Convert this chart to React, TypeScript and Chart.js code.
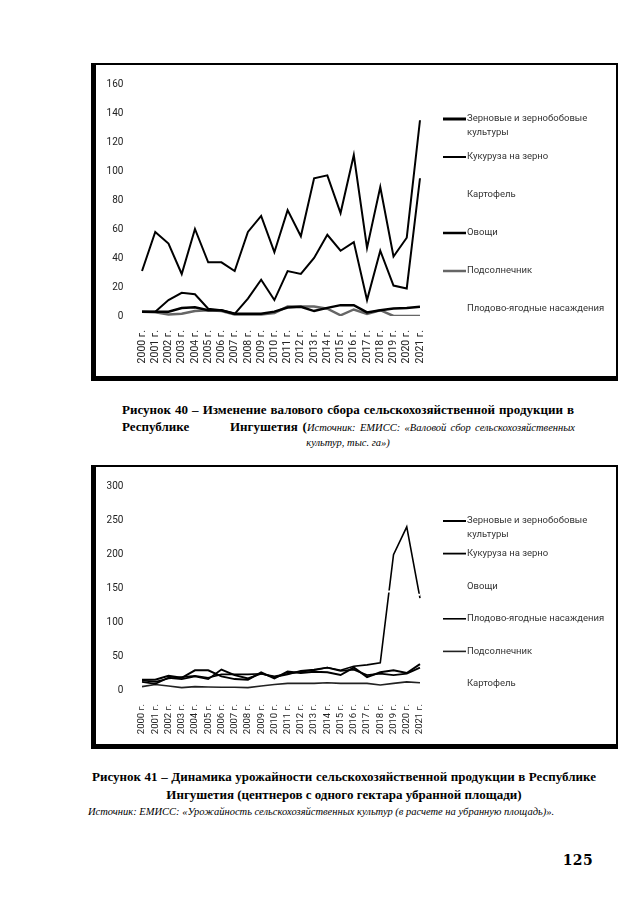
import React, { useEffect, useRef } from 'react';
import { Chart, registerables } from 'chart.js';

Chart.register(...registerables);

// ---------- shared categories ----------
const years = [
  '2000 г.', '2001 г.', '2002 г.', '2003 г.', '2004 г.', '2005 г.', '2006 г.', '2007 г.',
  '2008 г.', '2009 г.', '2010 г.', '2011 г.', '2012 г.', '2013 г.', '2014 г.', '2015 г.',
  '2016 г.', '2017 г.', '2018 г.', '2019 г.', '2020 г.', '2021 г.',
];

// ---------- Figure 40: gross harvest ----------
const grossNames = [
  'Зерновые и зернобобовые культуры',
  'Кукуруза на зерно',
  'Картофель',
  'Овощи',
  'Подсолнечник',
  'Плодово-ягодные насаждения',
];
const grossGrain = [31, 58, 50, 29, 60, 37, 37, 31, 58, 69, 44, 73, 55, 95, 97, 71, 111, 47, 89, 41, 54, 135];
const grossCorn = [3, 3, 11, 16, 15, 5, 4, 1.5, 12, 25, 11, 31, 29, 40, 56, 45, 51, 11, 45, 21, 19, 95];
const grossPotato = [32, 35, 38, 40, 39, 37, 37, 35, 36, 38, 40, 42, 44, 46, 50, 49, 48, 47, 40, 32, 30, 30];
const grossVeg = [3, 3, 3, 5.5, 6, 4, 4, 1.5, 1.5, 1.5, 3, 5.8, 6.3, 3.4, 5.6, 7.5, 7.5, 2.5, 4, 5.2, 5.6, 6.3];
const grossSunflower = [3, 2.5, 1, 1.5, 3.5, 4, 3.5, 1, 1, 1, 2, 6.5, 6.5, 6.5, 5, 0.5, 4.5, 1.5, 4, 0, 0, 0];
const grossFruit = [2, 2, 2, 2, 2, 3, 3, 2, 2, 2, 3, 4, 5, 6, 7, 7, 8, 8, 9, 10, 11, 12];
const grossTicks = [0, 20, 40, 60, 80, 100, 120, 140, 160];

// ---------- Figure 41: yields ----------
const yieldNames = [
  'Зерновые и зернобобовые культуры',
  'Кукуруза на зерно',
  'Овощи',
  'Плодово-ягодные насаждения',
  'Подсолнечник',
  'Картофель',
];
const yieldGrain = [15, 15, 21, 18, 29, 29, 20, 16, 15, 26, 17, 27, 25, 27, 26, 22, 33, 19, 26, 29, 25, 38];
const yieldCorn = [12, 9, 18, 16, 20, 16, 30, 22, 17, 24, 19, 23, 28, 30, 33, 28, 30, 22, 24, 22, 24, 33];
const yieldVeg = [120, 125, 130, 135, 140, 140, 145, 150, 150, 150, 155, 150, 150, 155, 150, 150, 150, 150, 145, 145, 140, 140];
const yieldFruit = [14, 12, 17, 19, 21, 18, 23, 23, 23, 24, 20, 24, 27, 29, 33, 29, 35, 37, 40, 199, 240, 135];
const yieldSunflower = [5, 8, 6, 3.5, 5, 4.5, 4, 4, 3.5, 6, 8, 9.7, 9.7, 9.7, 10.7, 9.7, 9.7, 9.7, 7.3, 9.7, 12, 10.7];
const yieldPotato = [100, 105, 110, 110, 115, 115, 120, 120, 120, 125, 125, 125, 130, 130, 130, 130, 135, 135, 135, 135, 140, 140];
const yieldTicks = [0, 50, 100, 150, 200, 250, 300];

// ---------- side legend plugin ----------
function wrapText(ctx: CanvasRenderingContext2D, text: string, maxW: number): string[] {
  const words = text.split(' ');
  const lines: string[] = [];
  let cur = '';
  for (const w of words) {
    const test = cur ? cur + ' ' + w : w;
    if (ctx.measureText(test).width > maxW && cur) {
      lines.push(cur);
      cur = w;
    } else {
      cur = test;
    }
  }
  if (cur) lines.push(cur);
  return lines;
}

const sideLegend = {
  id: 'sideLegend',
  afterDraw(chart: any, _args: any, opts: any) {
    const ctx: CanvasRenderingContext2D = chart.ctx;
    ctx.save();
    ctx.font = opts.font;
    ctx.textBaseline = 'middle';
    ctx.textAlign = 'left';
    let y = opts.y;
    chart.data.datasets.forEach((ds: any) => {
      const lines = wrapText(ctx, ds.label, opts.maxWidth);
      ctx.strokeStyle = ds.borderColor;
      ctx.lineWidth = ds.legendWidth || ds.borderWidth;
      ctx.beginPath();
      ctx.moveTo(opts.x0, y);
      ctx.lineTo(opts.x1, y);
      ctx.stroke();
      ctx.fillStyle = opts.color;
      lines.forEach((ln: string, i: number) => ctx.fillText(ln, opts.textX, y + i * opts.lineGap));
      y += opts.spacing;
    });
    ctx.restore();
  },
};

type LineDef = { label: string; data: number[]; color: string; width: number; legendWidth?: number };

type ChartProps = {
  left: number;
  top: number;
  width: number;
  height: number;
  lines: LineDef[];
  ticks: number[];
  areaTop: number;
  areaBottom: number;
  areaLeft: number;
  areaRight: number;
  xPad: number;
  xFont: number;
  legendY: number;
  legendSpacing: number;
};

function LineChart(p: ChartProps) {
  const ref = useRef<HTMLCanvasElement | null>(null);
  useEffect(() => {
    if (!ref.current) return;
    const chart = new Chart(ref.current, {
      type: 'line',
      data: {
        labels: years,
        datasets: p.lines.map((l) => ({
          label: l.label,
          data: l.data,
          borderColor: l.color,
          backgroundColor: l.color,
          borderWidth: l.width,
          legendWidth: l.legendWidth,
          pointRadius: 0,
          pointHoverRadius: 0,
          tension: 0,
          fill: false,
        })) as any,
      },
      options: {
        responsive: false,
        animation: false,
        events: [],
        layout: {
          padding: { left: 0, right: p.width - p.areaRight, top: p.areaTop, bottom: 0 },
        },
        plugins: {
          legend: { display: false },
          tooltip: { enabled: false },
          sideLegend: {
            font: '9.5px Roboto',
            color: '#333',
            x0: 346,
            x1: 369,
            textX: 370,
            y: p.legendY,
            spacing: p.legendSpacing,
            lineGap: 13.5,
            maxWidth: 140,
          },
        } as any,
        scales: {
          x: {
            offset: true,
            grid: { display: false, drawTicks: false },
            border: { display: false },
            ticks: {
              autoSkip: false,
              minRotation: 90,
              maxRotation: 90,
              padding: p.xPad,
              color: '#222',
              font: { family: 'Roboto', size: p.xFont },
            },
            afterFit: (s: any) => {
              s.height = p.height - p.areaBottom;
            },
          },
          y: {
            min: p.ticks[0],
            max: p.ticks[p.ticks.length - 1],
            grid: { display: false, drawTicks: false },
            border: { display: false },
            ticks: {
              stepSize: p.ticks[1] - p.ticks[0],
              padding: 12,
              color: '#222',
              font: { family: 'Roboto', size: 10 },
            },
            afterFit: (s: any) => {
              s.width = p.areaLeft;
            },
          },
        },
      },
      plugins: [sideLegend as any],
    });
    return () => chart.destroy();
  }, []);
  return (
    <canvas
      ref={ref}
      width={p.width}
      height={p.height}
      style={{ position: 'absolute', left: p.left, top: p.top, width: p.width, height: p.height }}
    />
  );
}

const boxStyle = (top: number, height: number): React.CSSProperties => ({
  position: 'absolute',
  left: 91,
  top,
  width: 527,
  height,
  boxSizing: 'border-box',
  borderTop: '2px solid #000',
  borderRight: '2px solid #000',
  borderLeft: '5px solid #000',
  borderBottom: '5px solid #000',
});

const serif = '"Liberation Serif", "Times New Roman", serif';

export default function App() {
  const gross: LineDef[] = [
    { label: grossNames[0], data: grossGrain, color: '#000', width: 2, legendWidth: 3 },
    { label: grossNames[1], data: grossCorn, color: '#000', width: 2 },
    { label: grossNames[2], data: grossPotato, color: '#fff', width: 2 },
    { label: grossNames[3], data: grossVeg, color: '#000', width: 2.5 },
    { label: grossNames[4], data: grossSunflower, color: '#666', width: 2.5 },
    { label: grossNames[5], data: grossFruit, color: '#fff', width: 2 },
  ];
  const yields: LineDef[] = [
    { label: yieldNames[0], data: yieldGrain, color: '#000', width: 2 },
    { label: yieldNames[1], data: yieldCorn, color: '#000', width: 1.8 },
    { label: yieldNames[2], data: yieldVeg, color: '#fff', width: 2 },
    { label: yieldNames[3], data: yieldFruit, color: '#000', width: 1.6 },
    { label: yieldNames[4], data: yieldSunflower, color: '#222', width: 1.6 },
    { label: yieldNames[5], data: yieldPotato, color: '#fff', width: 2 },
  ];
  return (
    <div
      style={{
        position: 'absolute',
        left: 0,
        top: 0,
        width: 640,
        height: 905,
        background: '#fff',
        overflow: 'hidden',
        color: '#000',
      }}
    >
      <div style={boxStyle(63, 318)} />
      <LineChart
        left={97}
        top={66}
        width={519}
        height={309}
        lines={gross}
        ticks={grossTicks}
        areaTop={14}
        areaBottom={250}
        areaLeft={38.4}
        areaRight={329.6}
        xPad={14}
        xFont={10.5}
        legendY={53}
        legendSpacing={38}
      />

      <div
        style={{
          position: 'absolute',
          left: 122,
          top: 402,
          width: 452,
          fontFamily: serif,
          fontWeight: 'bold',
          fontSize: 13,
          lineHeight: '16px',
          textAlign: 'justify',
          textAlignLast: 'justify',
          whiteSpace: 'nowrap',
        }}
      >
        Рисунок 40 – Изменение валового сбора сельскохозяйственной продукции в
      </div>
      <div
        style={{
          position: 'absolute',
          left: 122,
          top: 419,
          fontFamily: serif,
          fontWeight: 'bold',
          fontSize: 13,
          lineHeight: '16px',
          whiteSpace: 'nowrap',
        }}
      >
        Республике
      </div>
      <div
        style={{
          position: 'absolute',
          left: 230,
          top: 419,
          width: 345,
          fontFamily: serif,
          fontSize: 13,
          lineHeight: '16px',
          textAlign: 'justify',
          textAlignLast: 'justify',
          whiteSpace: 'nowrap',
        }}
      >
        <b>Ингушетия (</b>
        <i style={{ fontSize: 10.5 }}>Источник: ЕМИСС: «Валовой сбор сельскохозяйственных</i>
      </div>
      <div
        style={{
          position: 'absolute',
          left: 122,
          top: 436,
          width: 452,
          textAlign: 'center',
          fontFamily: serif,
          fontStyle: 'italic',
          fontSize: 10.5,
          lineHeight: '14px',
          whiteSpace: 'nowrap',
        }}
      >
        культур, тыс. га»)
      </div>

      <div style={boxStyle(465, 284)} />
      <LineChart
        left={97}
        top={468}
        width={519}
        height={275}
        lines={yields}
        ticks={yieldTicks}
        areaTop={17}
        areaBottom={222}
        areaLeft={38.4}
        areaRight={329.6}
        xPad={14}
        xFont={9.5}
        legendY={53}
        legendSpacing={32.6}
      />

      <div
        style={{
          position: 'absolute',
          left: 92,
          top: 769,
          width: 504,
          fontFamily: serif,
          fontWeight: 'bold',
          fontSize: 13,
          lineHeight: '16px',
          textAlign: 'justify',
          textAlignLast: 'justify',
          whiteSpace: 'nowrap',
        }}
      >
        Рисунок 41 – Динамика урожайности сельскохозяйственной продукции в Республике
      </div>
      <div
        style={{
          position: 'absolute',
          left: 92,
          top: 787,
          width: 504,
          textAlign: 'center',
          fontFamily: serif,
          fontWeight: 'bold',
          fontSize: 13,
          lineHeight: '16px',
          whiteSpace: 'nowrap',
        }}
      >
        Ингушетия (центнеров с одного гектара убранной площади)
      </div>
      <div
        style={{
          position: 'absolute',
          left: 88,
          top: 805,
          width: 460,
          fontFamily: serif,
          fontStyle: 'italic',
          fontSize: 10.5,
          lineHeight: '14px',
          textAlign: 'justify',
          textAlignLast: 'justify',
          whiteSpace: 'nowrap',
        }}
      >
        Источник: ЕМИСС: «Урожайность сельскохозяйственных культур (в расчете на убранную площадь)».
      </div>

      <div
        style={{
          position: 'absolute',
          left: 558,
          top: 851,
          width: 40,
          textAlign: 'center',
          fontFamily: '"DejaVu Serif", serif',
          fontWeight: 900,
          fontSize: 14,
          lineHeight: '18px',
          letterSpacing: 0.5,
        }}
      >
        125
      </div>
    </div>
  );
}
